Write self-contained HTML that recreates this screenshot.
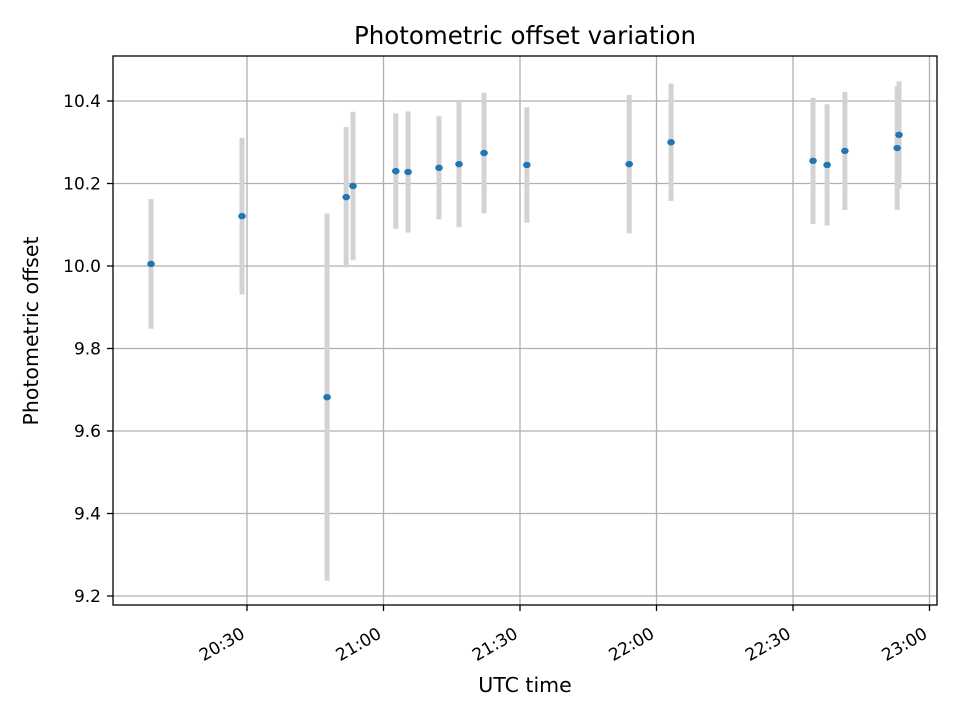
<!DOCTYPE html>
<html><head><meta charset="utf-8"><style>
html,body{margin:0;padding:0;background:#fff;}
svg{display:block;font-family:"DejaVu Sans","Liberation Sans",sans-serif;}
</style></head><body>
<svg id="chart" width="960" height="720" viewBox="0 0 960 720" xmlns="http://www.w3.org/2000/svg">
<rect x="0" y="0" width="960" height="720" fill="#fff"/>
<text x="525" y="44" font-size="24.5" text-anchor="middle" fill="#000">Photometric offset variation</text>
<g id="grid"></g>
<g id="bars"></g>
<g id="points"></g>
<rect x="113" y="56" width="824" height="549" fill="none" stroke="#000" stroke-width="1.3"/>
<g id="xaxis"></g>
<g id="yaxis"></g>
<text x="525" y="692" font-size="20.5" text-anchor="middle">UTC time</text>
<text transform="translate(38,331) rotate(-90)" font-size="20.5" text-anchor="middle">Photometric offset</text>
</svg>
<script>
// minutes after 20:00 UTC
const times = [8.9, 28.9, 47.6, 51.8, 53.3, 62.7, 65.4, 72.2, 76.6, 82.1, 91.5, 114.0, 123.2, 154.4, 157.5, 161.4, 172.9, 173.3];
const offsets = [10.005, 10.121, 9.682, 10.167, 10.194, 10.230, 10.228, 10.238, 10.247, 10.274, 10.245, 10.247, 10.300, 10.255, 10.245, 10.279, 10.286, 10.318];
const errors = [0.157, 0.19, 0.445, 0.17, 0.18, 0.14, 0.147, 0.125, 0.153, 0.146, 0.14, 0.168, 0.142, 0.153, 0.147, 0.143, 0.15, 0.13];
const yTicks = [9.2, 9.4, 9.6, 9.8, 10.0, 10.2, 10.4];
const yTickLabels = ["9.2", "9.4", "9.6", "9.8", "10.0", "10.2", "10.4"];
const xTicks = [30, 60, 90, 120, 150, 180];
const xTickLabels = ["20:30", "21:00", "21:30", "22:00", "22:30", "23:00"];

const NS = "http://www.w3.org/2000/svg";
function xs(m){ return 247 + (m - 30) * (136.5 / 30); }
function ys(v){ return 266 - (v - 10.0) * (82.5 / 0.2); }
function mk(tag, attrs, parent){
  const e = document.createElementNS(NS, tag);
  for (const k in attrs) e.setAttribute(k, attrs[k]);
  parent.appendChild(e);
  return e;
}
const grid = document.getElementById('grid');
const xa = document.getElementById('xaxis');
const ya = document.getElementById('yaxis');
const bars = document.getElementById('bars');
const pts = document.getElementById('points');

yTicks.forEach((t, i) => {
  const y = ys(t);
  const g = mk('line', {x1:113, x2:937, y1:y, y2:y, stroke:'#b0b0b0', 'stroke-width':1.3}, grid);
  
  
  const tk = mk('line', {x1:107, x2:113, y1:y, y2:y, stroke:'#000', 'stroke-width':1.3}, ya);
  
  
  const tx = mk('text', {x:101, y:y + 6, 'font-size':17, 'text-anchor':'end'}, ya);
  tx.textContent = yTickLabels[i];
  
  
});
xTicks.forEach((t, i) => {
  const x = xs(t);
  const g = mk('line', {x1:x, x2:x, y1:56, y2:605, stroke:'#b0b0b0', 'stroke-width':1.3}, grid);
  
  
  const tk = mk('line', {x1:x, x2:x, y1:605, y2:611, stroke:'#000', 'stroke-width':1.3}, xa);
  
  
  const tx = mk('text', {transform:`translate(${x - 1},${637}) rotate(-30)`, 'font-size':17, 'text-anchor':'end'}, xa);
  tx.textContent = xTickLabels[i];
  
  
});
times.forEach((t, i) => {
  const x = xs(t);
  const b = mk('line', {x1:x, x2:x, y1:ys(offsets[i] + errors[i]), y2:ys(offsets[i] - errors[i]), stroke:'#d3d3d3', 'stroke-width':5}, bars);
  
  
  const p = mk('ellipse', {cx:x, cy:ys(offsets[i]), rx:3.8, ry:3.2, fill:'#1f77b4'}, pts);
  
  
});
</script>
</body></html>
